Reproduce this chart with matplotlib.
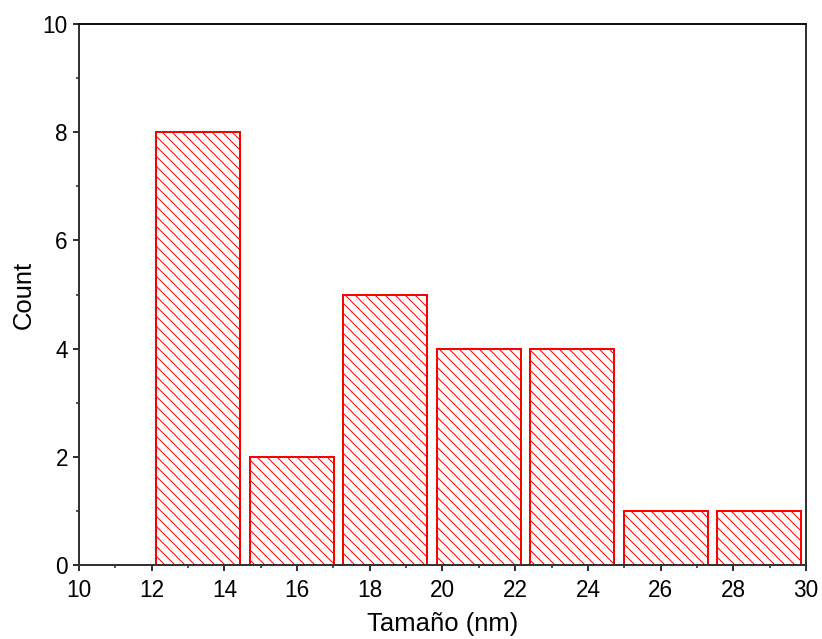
import matplotlib.pyplot as plt
import numpy as np

plt.rcParams['font.family'] = ['Liberation Sans', 'DejaVu Sans']
plt.rcParams['hatch.linewidth'] = 0.6
plt.rcParams['hatch.color'] = '#ff0000'

# histogram of particle sizes: 7 bins from 12 to 30 nm
bin_edges = np.linspace(12, 30, 8)
counts = [8, 2, 5, 4, 4, 1, 1]

centers = (bin_edges[:-1] + bin_edges[1:]) / 2
width = (bin_edges[1] - bin_edges[0]) * 0.9

fig = plt.figure(figsize=(822 / 120, 639 / 120), dpi=120)
ax = fig.add_axes([0.0961, 0.1158, 0.8844, 0.8466])

ax.bar(centers, counts, width=width, color='white', edgecolor='#ff0000',
       linewidth=1.2, hatch='\\\\\\\\', zorder=2)

ax.set_xlim(10, 30)
ax.set_ylim(0, 10)
ax.set_xticks(np.arange(10, 31, 2))
ax.set_xticks(np.arange(11, 30, 2), minor=True)
ax.set_yticks(np.arange(0, 11, 2))
ax.set_yticks(np.arange(1, 10, 2), minor=True)

for side in ['left', 'bottom', 'top', 'right']:
    ax.spines[side].set_linewidth(1.2)
    ax.spines[side].set_color('#333333')
ax.spines['top'].set_color('#111111')

ax.tick_params(which='major', direction='out', length=3.6, width=1.2,
               color='#333333', labelsize=13.5, pad=3)
ax.tick_params(axis='x', which='major', pad=5)
ax.tick_params(which='minor', direction='out', length=2, width=1.0,
               color='#333333')

ax.set_xlabel('Tamaño (nm)', fontsize=15.4, labelpad=6)
ax.set_ylabel('Count', fontsize=15.4, labelpad=4)

plt.savefig('out.png', dpi=120)
